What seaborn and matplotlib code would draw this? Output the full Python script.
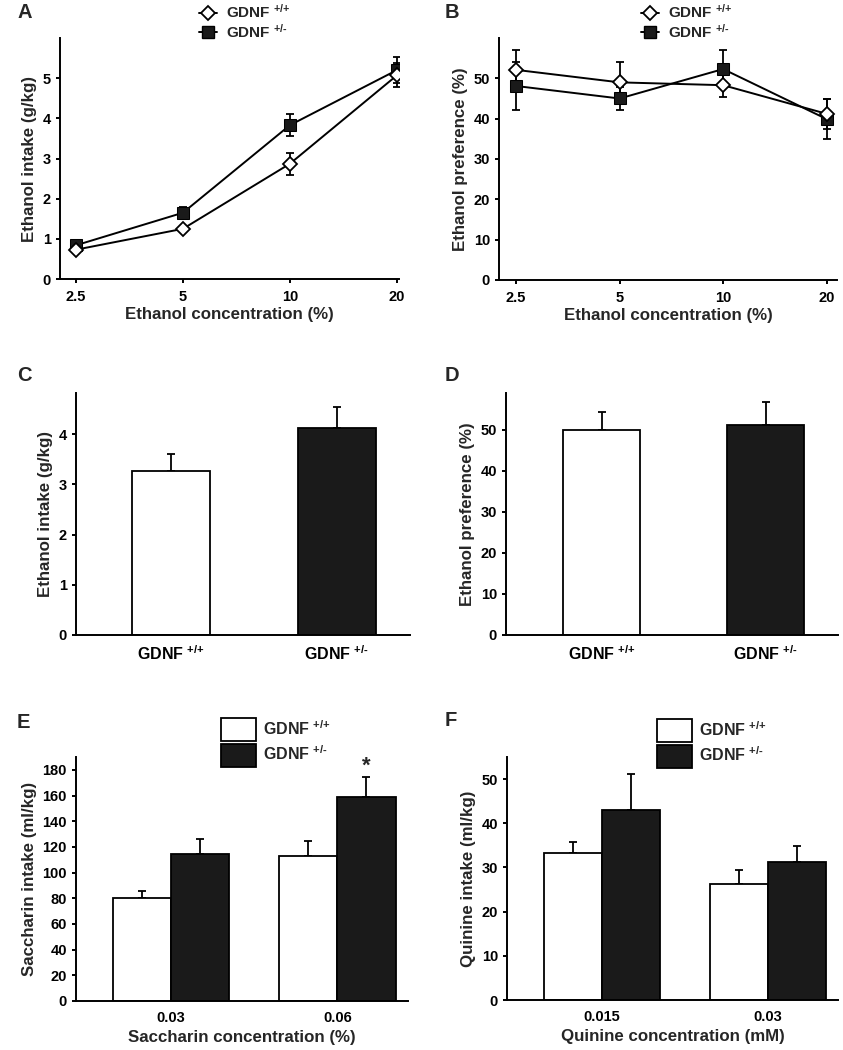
import numpy as np
import pandas as pd
import matplotlib
matplotlib.use("Agg")
import matplotlib.pyplot as plt
import seaborn as sns
from matplotlib.lines import Line2D
from matplotlib.patches import Patch

# ---- data ----
groups = ["GDNF +/+", "GDNF +/-"]
group_labels = ["GDNF $^{\\text{+/+}}$", "GDNF $^{\\text{+/-}}$"]

ethanol_conc = ["2.5", "5", "10", "20"]
intake_wt = [0.73, 1.25, 2.87, 5.07]
intake_wt_sem = [0.05, 0.08, 0.27, 0.30]
intake_het = [0.84, 1.65, 3.83, 5.20]
intake_het_sem = [0.06, 0.15, 0.28, 0.33]

pref_wt = [52.1, 49.0, 48.3, 41.2]
pref_wt_sem = [4.9, 5.1, 3.0, 3.7]
pref_het = [48.1, 45.0, 52.3, 39.9]
pref_het_sem = [6.0, 2.9, 4.7, 4.9]

avg_intake = [3.27, 4.12]
avg_intake_sem = [0.33, 0.43]
avg_pref = [50.0, 51.1]
avg_pref_sem = [4.3, 5.7]

sacch_conc = ["0.03", "0.06"]
sacch_wt = [80.5, 113.0]
sacch_wt_sem = [5.2, 11.8]
sacch_het = [114.6, 158.6]
sacch_het_sem = [11.5, 16.0]

quin_conc = ["0.015", "0.03"]
quin_wt = [33.3, 26.3]
quin_wt_sem = [2.5, 3.2]
quin_het = [43.1, 31.2]
quin_het_sem = [8.1, 3.7]

WHITE = "white"
DARK = "#1a1a1a"

sns.set_style("ticks")
plt.rcParams["font.family"] = ["Liberation Sans", "DejaVu Sans"]
plt.rcParams["font.weight"] = "bold"
plt.rcParams["axes.labelweight"] = "bold"
plt.rcParams["mathtext.fontset"] = "custom"
plt.rcParams["mathtext.rm"] = "Liberation Sans:bold"
plt.rcParams["mathtext.it"] = "Liberation Sans:bold"
plt.rcParams["mathtext.bf"] = "Liberation Sans:bold"
plt.rcParams["mathtext.sf"] = "Liberation Sans:bold"
plt.rcParams["axes.linewidth"] = 1.4
plt.rcParams["xtick.major.width"] = 1.4
plt.rcParams["ytick.major.width"] = 1.4
plt.rcParams["xtick.major.size"] = 3
plt.rcParams["ytick.major.size"] = 3
plt.rcParams["xtick.labelsize"] = 10.5
plt.rcParams["ytick.labelsize"] = 10.5
plt.rcParams["axes.labelsize"] = 12.2
plt.rcParams["xtick.color"] = "black"
plt.rcParams["ytick.color"] = "black"
plt.rcParams["axes.edgecolor"] = "black"

fig = plt.figure(figsize=(8.43, 10.5), dpi=100)
W, H = 843, 1050


def add_axes(left, right, top, bottom):
    return fig.add_axes([left / W, 1 - bottom / H, (right - left) / W, (bottom - top) / H])


def panel_letter(x, y, s):
    fig.text(x / W, 1 - y / H, s, fontsize=14.5, fontweight="bold", ha="left", va="center")


def line_panel(ax, wt, wt_sem, het, het_sem, ylabel, ylim, yticks, xlim):
    pos = np.arange(len(ethanol_conc))
    df = pd.DataFrame({
        "pos": np.concatenate([pos, pos]),
        "value": wt + het,
        "group": [groups[0]] * len(pos) + [groups[1]] * len(pos),
    })
    ax.errorbar(pos, het, yerr=het_sem, fmt="none", ecolor="black",
                elinewidth=1.3, capsize=3, capthick=1.3, zorder=2)
    ax.errorbar(pos, wt, yerr=wt_sem, fmt="none", ecolor="black",
                elinewidth=1.3, capsize=3, capthick=1.3, zorder=2)
    sns.lineplot(data=df[df.group == groups[1]], x="pos", y="value", ax=ax,
                 color="black", lw=1.4, marker="s", markersize=8.5,
                 markerfacecolor=DARK, markeredgecolor="black", zorder=3)
    sns.lineplot(data=df[df.group == groups[0]], x="pos", y="value", ax=ax,
                 color="black", lw=1.4, marker="D", markersize=7.5,
                 markerfacecolor="white", markeredgecolor="black",
                 markeredgewidth=1.3, zorder=4)
    ax.set_xticks(pos)
    ax.set_xticklabels(ethanol_conc)
    ax.tick_params(axis="x", pad=5)
    ax.set_xlim(*xlim)
    ax.set_ylim(*ylim)
    ax.set_yticks(yticks)
    ax.set_xlabel("Ethanol concentration (%)", labelpad=2)
    ax.set_ylabel(ylabel)
    sns.despine(ax=ax)


def line_legend(x_left, y_top):
    handles = [
        Line2D([], [], color="black", lw=1.4, marker="D", markersize=7.5,
               markerfacecolor="white", markeredgecolor="black", markeredgewidth=1.3),
        Line2D([], [], color="black", lw=1.4, marker="s", markersize=8.5,
               markerfacecolor=DARK, markeredgecolor="black"),
    ]
    fig.legend(handles, group_labels, loc="upper left",
               bbox_to_anchor=(x_left / W, 1 - y_top / H), bbox_transform=fig.transFigure,
               frameon=False, fontsize=11, handlelength=1.2, handletextpad=0.55,
               labelspacing=0.1, borderpad=0, borderaxespad=0)


def err_up(ax, sems_per_hue):
    for cont, sems in zip(ax.containers, sems_per_hue):
        for bar, s in zip(cont, sems):
            x = bar.get_x() + bar.get_width() / 2
            h = bar.get_height()
            ax.errorbar(x, h, yerr=[[0], [s]], fmt="none", ecolor="black",
                        elinewidth=1.3, capsize=3, capthick=1.3, zorder=1)


def single_bar_panel(ax, values, sems, ylabel, ylim, yticks, xlim):
    df = pd.DataFrame({"group": groups, "value": values})
    sns.barplot(data=df, x="group", y="value", hue="group", ax=ax,
                palette=[WHITE, DARK], edgecolor="black", linewidth=1.3,
                width=0.47, legend=False, errorbar=None, zorder=2)
    err_up(ax, [[s] for s in sems])
    ax.set_xticks([0, 1])
    ax.set_xticklabels(group_labels, fontsize=11.5)
    ax.tick_params(axis="x", length=0, pad=7)
    ax.set_xlim(*xlim)
    ax.set_ylim(*ylim)
    ax.set_yticks(yticks)
    ax.set_xlabel("")
    ax.set_ylabel(ylabel)
    sns.despine(ax=ax)


def grouped_bar_panel(ax, conc, wt, wt_sem, het, het_sem, xlabel, ylabel, ylim, yticks, xlim):
    df = pd.DataFrame({
        "conc": conc + conc,
        "value": wt + het,
        "group": [groups[0]] * len(conc) + [groups[1]] * len(conc),
    })
    sns.barplot(data=df, x="conc", y="value", hue="group", ax=ax,
                palette=[WHITE, DARK], edgecolor="black", linewidth=1.3,
                width=0.7, legend=False, errorbar=None, zorder=2)
    err_up(ax, [wt_sem, het_sem])
    ax.tick_params(axis="x", length=0, pad=7)
    ax.set_xlim(*xlim)
    ax.set_ylim(*ylim)
    ax.set_yticks(yticks)
    ax.set_xlabel(xlabel, labelpad=4)
    ax.set_ylabel(ylabel)
    sns.despine(ax=ax)


def bar_legend(x_left, y_top):
    handles = [Patch(facecolor=WHITE, edgecolor="black", linewidth=1.3),
               Patch(facecolor=DARK, edgecolor="black", linewidth=1.3)]
    fig.legend(handles, group_labels, loc="upper left",
               bbox_to_anchor=(x_left / W, 1 - y_top / H), bbox_transform=fig.transFigure,
               frameon=False, fontsize=11.5, handlelength=2.2, handleheight=1.85,
               handletextpad=0.45, labelspacing=0.15, borderpad=0, borderaxespad=0)


# A
axA = add_axes(60, 399, 38, 279)
line_panel(axA, intake_wt, intake_wt_sem, intake_het, intake_het_sem,
           "Ethanol intake (g/kg)", (0, 6), range(0, 6), (-0.15, 3.02))
line_legend(199, 3)
panel_letter(17, 12, "A")

# B
axB = add_axes(499, 837, 38, 280)
line_panel(axB, pref_wt, pref_wt_sem, pref_het, pref_het_sem,
           "Ethanol preference (%)", (0, 60), range(0, 60, 10), (-0.165, 3.1))
line_legend(641, 3)
panel_letter(445, 12, "B")

# C
axC = add_axes(76, 410, 393, 635)
single_bar_panel(axC, avg_intake, avg_intake_sem, "Ethanol intake (g/kg)",
                 (0, 4.82), range(0, 5), (-0.57, 1.44))
panel_letter(17, 375, "C")

# D
axD = add_axes(506, 838, 393, 635)
single_bar_panel(axD, avg_pref, avg_pref_sem, "Ethanol preference (%)",
                 (0, 59), range(0, 60, 10), (-0.585, 1.44))
panel_letter(445, 375, "D")

# E
axE = add_axes(76, 408, 757, 1001)
grouped_bar_panel(axE, sacch_conc, sacch_wt, sacch_wt_sem, sacch_het, sacch_het_sem,
                  "Saccharin concentration (%)", "Saccharin intake (ml/kg)",
                  (0, 190), range(0, 181, 20), (-0.572, 1.425))
axE.text(1.175, sacch_het[1] + sacch_het_sem[1] + 8, "*", ha="center", va="center",
         fontsize=16, fontweight="bold")
bar_legend(221, 718)
panel_letter(17, 722, "E")

# F
axF = add_axes(507, 838, 757, 1000)
grouped_bar_panel(axF, quin_conc, quin_wt, quin_wt_sem, quin_het, quin_het_sem,
                  "Quinine concentration (mM)", "Quinine intake (ml/kg)",
                  (0, 55), range(0, 51, 10), (-0.572, 1.42))
bar_legend(657, 719)
panel_letter(445, 720, "F")

fig.savefig("out.png", dpi=100)
